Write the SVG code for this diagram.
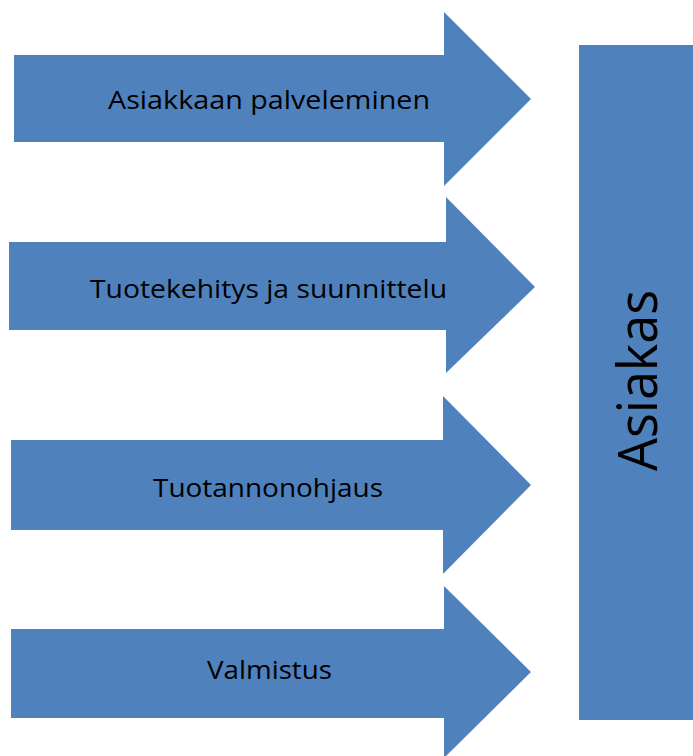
<svg xmlns="http://www.w3.org/2000/svg" width="693" height="756" viewBox="0 0 693 756">
<style>
.shape{fill:#4F81BD;}
.lbl{font-family:"Open Sans","Liberation Sans",sans-serif;font-size:25px;fill:#000;}
.big{font-family:"Open Sans","Liberation Sans",sans-serif;font-size:54px;fill:#000;}
</style>
<rect width="693" height="756" fill="#fff"/>
<g id="arrow1">
<polygon class="shape" points="14,55 444,55 444,12 531,99 444,186 444,142 14,142"/>
<text class="lbl" x="108" y="109" textLength="322" lengthAdjust="spacingAndGlyphs">Asiakkaan palveleminen</text>
</g>
<g id="arrow2">
<polygon class="shape" points="9,242 446,242 446,197 535,287 446,373 446,330 9,330"/>
<text class="lbl" x="90" y="298" textLength="357" lengthAdjust="spacingAndGlyphs">Tuotekehitys ja suunnittelu</text>
</g>
<g id="arrow3">
<polygon class="shape" points="11,440 443,440 443,396 531,485 443,574 443,530 11,530"/>
<text class="lbl" x="153" y="497" textLength="230" lengthAdjust="spacingAndGlyphs">Tuotannonohjaus</text>
</g>
<g id="arrow4">
<polygon class="shape" points="11,629 444,629 444,586 531,672 444,758 444,718 11,718"/>
<text class="lbl" x="207" y="679" textLength="125" lengthAdjust="spacingAndGlyphs">Valmistus</text>
</g>
<g id="asiakas">
<rect class="shape" x="579" y="45" width="114" height="675"/>
<text class="big" transform="translate(657,471) rotate(-90)" textLength="181" lengthAdjust="spacingAndGlyphs">Asiakas</text>
</g>
<g id="connectors"/>
</svg>
